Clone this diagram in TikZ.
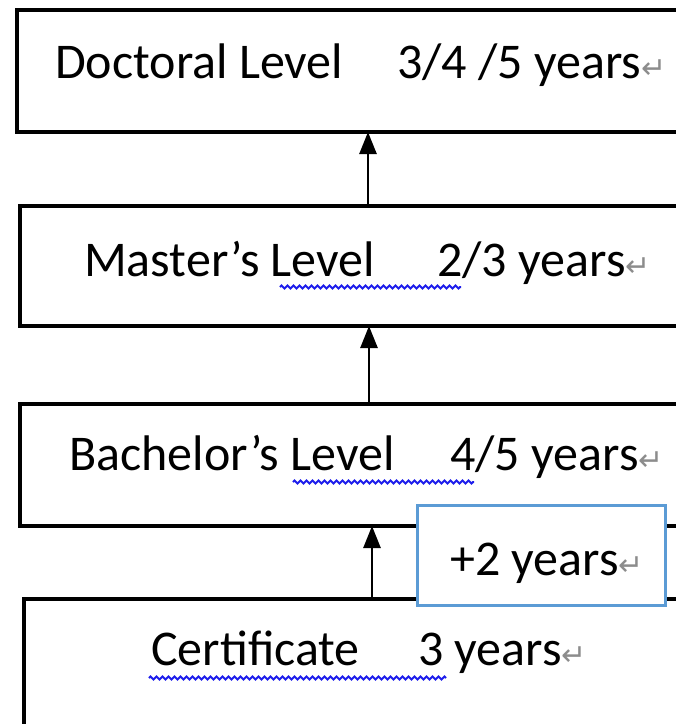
\documentclass[tikz,border=0pt]{standalone}
\usepackage{fontspec}
\setmainfont{Carlito}
\newfontfamily\markfont{DejaVu Sans}
\usetikzlibrary{arrows.meta,decorations.pathmorphing}

\definecolor{wordblue}{RGB}{91,155,213}
\definecolor{spellblue}{RGB}{30,30,235}
\newcommand{\retmark}{{\color{black!45}\markfont\fontsize{30}{30}\selectfont ↵}}

\tikzset{
  levelbox/.style={draw, line width=3.6pt, rectangle, anchor=north west, inner sep=0pt, outer sep=0pt},
  addbox/.style={draw=wordblue, fill=white, line width=3pt, rectangle, anchor=north west, inner sep=0pt, outer sep=0pt},
  lvltext/.style={anchor=base west, inner sep=0pt, font=\fontsize{50}{50}\selectfont},
  uparrow/.style={line width=2.6pt, -{Triangle[length=22pt,width=17pt]}},
  squiggle/.style={spellblue, line width=2pt, decorate, decoration={zigzag, segment length=6pt, amplitude=1.5pt}},
}

\begin{document}
\begin{tikzpicture}[x=1pt,y=-1pt]
  \useasboundingbox (0,0) rectangle (676,724);
  \clip (0,0) rectangle (676,724);
  % the four levels, running past the right edge
  \node[levelbox, minimum width=720pt, minimum height=122pt] (doctoral) at (17,10) {};
  \node[levelbox, minimum width=720pt, minimum height=120pt] (master) at (20,206) {};
  \node[levelbox, minimum width=720pt, minimum height=122pt] (bachelor) at (20,404) {};
  \node[levelbox, minimum width=720pt, minimum height=160pt] (certificate) at (24,599) {};

  \node[lvltext] (doctoralname) at (55,78) {Doctoral Level};
  \node[lvltext] (doctoralyears) at (397,78) {3/4 /5 years\retmark};
  \node[lvltext] (mastername) at (84,276) {Master’s Level};
  \node[lvltext] (masteryears) at (437,276) {2/3 years\retmark};
  \node[lvltext] (bachelorname) at (69,470) {Bachelor’s Level};
  \node[lvltext] (bacheloryears) at (450,470) {4/5 years\retmark};
  \node[lvltext] (certname) at (151,665) {Certificate};
  \node[lvltext] (certyears) at (418,665) {3 years\retmark};

  % spelling marks
  \draw[squiggle] (280,287) -- (461,287);
  \draw[squiggle] (293,482) -- (474,482);
  \draw[squiggle] (149,678) -- (446,678);

  % arrows up
  \coordinate (axa) at (368,0);
  \coordinate (axb) at (369,0);
  \coordinate (axc) at (372,0);
  \draw[uparrow] (axa |- master.north) -- (axa |- doctoral.south);
  \draw[uparrow] (axb |- bachelor.north) -- (axb |- master.south);
  \draw[uparrow] (axc |- certificate.north) -- (axc |- bachelor.south);

  % extra two years
  \node[addbox, minimum width=248pt, minimum height=100pt] (plus) at (417,505) {};
  \node[lvltext] (plustext) at (450,575) {+2 years\retmark};
\end{tikzpicture}
\end{document}
